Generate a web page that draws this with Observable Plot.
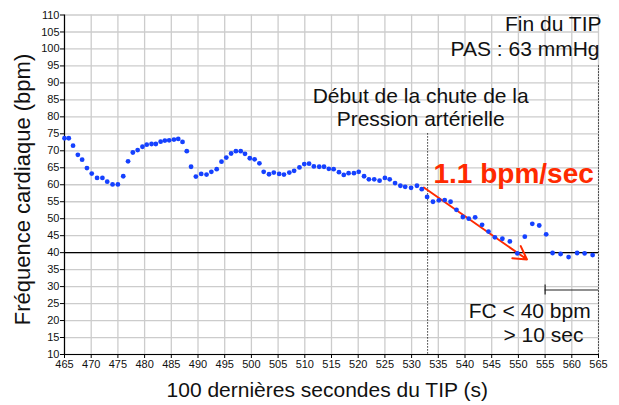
<!DOCTYPE html>
<html><head><meta charset="utf-8">
<script src="https://cdn.jsdelivr.net/npm/d3@7"></script>
<script src="https://cdn.jsdelivr.net/npm/@observablehq/plot@0.6"></script>
<style>
body{margin:0;background:#fff;}
#chart svg{font-family:"Liberation Sans",Arial,Helvetica,sans-serif;}
</style>
</head><body><div id="chart"></div>
<script>
// Time (s) of each beat and heart rate (bpm)
const seconds = [
  465.0,465.8,466.6,467.5,468.3,469.2,470.1,471.1,472.1,473.0,474.0,475.0,476.0,476.9,477.8,478.7,479.6,480.4,481.3,482.1,
  483.0,483.8,484.6,485.5,486.3,487.1,487.9,488.7,489.6,490.6,491.6,492.5,493.5,494.4,495.3,496.2,497.1,498.0,498.8,499.7,
  500.6,501.5,502.3,503.3,504.2,505.2,506.1,507.1,508.0,509.0,509.9,510.8,511.7,512.7,513.6,514.5,515.4,516.4,517.3,518.2,
  519.2,520.1,521.1,522.0,523.0,524.0,525.0,525.9,526.9,527.9,528.8,529.9,531.0,531.9,532.9,534.0,535.1,536.2,537.3,538.4,
  539.6,540.7,541.9,543.2,544.4,545.6,547.0,548.4,549.8,551.2,552.6,553.9,555.2,556.4,557.9,559.4,561.0,562.4,563.9
];
const heartRate = [
  73.7,73.7,71.5,68.8,67.4,64.9,63.3,62.0,62.0,60.9,60.1,60.1,62.5,66.9,69.5,70.2,71.2,71.8,72.0,72.0,
  72.7,73.0,73.1,73.3,73.5,72.6,69.9,65.3,62.4,63.2,63.0,63.8,64.6,66.8,68.0,69.2,69.9,69.9,69.1,67.8,
  67.5,66.3,63.8,63.1,63.6,63.2,63.0,63.6,64.1,65.1,66.1,66.2,65.4,65.3,65.3,64.7,64.6,63.7,62.9,63.4,
  63.4,63.8,62.5,61.6,61.6,61.2,62.0,61.6,60.5,59.7,59.4,59.1,59.7,58.7,56.4,55.0,55.4,55.5,55.0,52.6,
  50.5,50.0,50.4,48.2,46.2,44.5,44.1,43.3,39.8,44.7,48.5,48.0,45.4,39.9,39.6,38.7,39.9,39.8,39.3
];
const xTicks = d3.range(465, 566, 5);
const yTicks = d3.range(10, 111, 5);
const threshold = [40];
const bpDropStart = [533];
const tipEnd = [565];
const slopeStart = [532.3, 59.2];
const slopeEnd = [551.6, 38.0];
const lowHrStart = [555];
const lowHrLevel = [29];

const data = seconds.map((t, i) => ({t, hr: heartRate[i]}));
const font = '"Liberation Sans",Arial,Helvetica,sans-serif';

const chart = Plot.plot({
  width: 619, height: 405,
  marginTop: 14.5, marginRight: 21, marginBottom: 51, marginLeft: 64,
  style: {fontFamily: font, fontSize: "11px", background: "white", color: "black", overflow: "visible"},
  x: {domain: [465, 565]},
  y: {domain: [10, 110]},
  marks: [
    Plot.gridX(xTicks, {stroke: "#cccccc", strokeOpacity: 1, strokeWidth: 1.3}),
    Plot.gridY(yTicks, {stroke: "#cccccc", strokeOpacity: 1, strokeWidth: 1.3}),
    Plot.ruleY(threshold, {stroke: "black", strokeWidth: 1.2}),
    Plot.ruleX(bpDropStart, {y1: 75, y2: 10, stroke: "black", strokeWidth: 1, strokeDasharray: "1.2,1.8"}),
    Plot.ruleX(tipEnd, {y1: 95, y2: 10, stroke: "black", strokeWidth: 1, strokeDasharray: "1.2,1.8"}),
    Plot.ruleY(lowHrLevel, {x1: lowHrStart[0], x2: tipEnd[0], stroke: "#222", strokeWidth: 1.2}),
    Plot.ruleX(lowHrStart, {y1: lowHrLevel[0] - 1.5, y2: lowHrLevel[0] + 1.5, stroke: "#222", strokeWidth: 1.2}),
    Plot.ruleX([465], {stroke: "black", strokeWidth: 1.2}),
    Plot.ruleY([10], {stroke: "black", strokeWidth: 1.2}),
    Plot.axisY(yTicks, {tickSize: 4, tickPadding: 1, fontSize: 11, label: null, stroke: "black", fill: "#111"}),
    Plot.axisX(xTicks, {tickSize: 4, tickPadding: 1.5, fontSize: 11, label: null, stroke: "black", fill: "#111"}),
    Plot.arrow([{x1: slopeStart[0], y1: slopeStart[1], x2: slopeEnd[0], y2: slopeEnd[1]}],
      {x1: "x1", y1: "y1", x2: "x2", y2: "y2", stroke: "#ff2a00", strokeWidth: 2, headLength: 11}),
    Plot.dot(data, {x: "t", y: "hr", r: 2.4, fill: "#1541ff", stroke: "none"}),
    // annotations
    Plot.text(["Début de la chute de la"], {x: 531.7, y: 84.0, textAnchor: "middle", lineAnchor: "bottom", fontSize: 21, fill: "#111"}),
    Plot.text(["Pression artérielle"], {x: 531.7, y: 77.4, textAnchor: "middle", lineAnchor: "bottom", fontSize: 21, fill: "#111"}),
    Plot.text(["Fin du TIP"], {x: 565, y: 105.2, dx: 3, textAnchor: "end", lineAnchor: "bottom", fontSize: 21, fill: "#111"}),
    Plot.text(["PAS : 63 mmHg"], {x: 565, y: 97.8, dx: 1, textAnchor: "end", lineAnchor: "bottom", fontSize: 21, fill: "#111"}),
    Plot.text(["1.1 bpm/sec"], {x: 534.1, y: 60.4, textAnchor: "start", lineAnchor: "bottom", fontSize: 28, fontWeight: "bold", fill: "#ff2a00"}),
    Plot.text(["FC < 40 bpm"], {x: 540.7, y: 20.8, textAnchor: "start", lineAnchor: "bottom", fontSize: 21, fill: "#111"}),
    Plot.text(["> 10 sec"], {x: 547.2, y: 13.6, textAnchor: "start", lineAnchor: "bottom", fontSize: 21, fill: "#111"}),
    Plot.text(["100 dernières secondes du TIP (s)"], {x: 514.2, frameAnchor: "bottom", dy: 42.7, textAnchor: "middle", lineAnchor: "bottom", fontSize: 21, fill: "#111"}),
    Plot.text(["Fréquence cardiaque (bpm)"], {y: 58.6, frameAnchor: "left", dx: -42, rotate: -90, textAnchor: "middle", lineAnchor: "middle", fontSize: 22, fill: "#111"})
  ]
});
document.getElementById("chart").appendChild(chart);
</script>
</body></html>
